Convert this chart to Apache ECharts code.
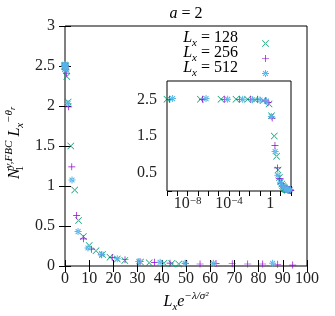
<!DOCTYPE html>
<html><head><meta charset="utf-8">
<script src="https://cdn.jsdelivr.net/npm/echarts@6/dist/echarts.min.js"></script>
<style>html,body{margin:0;padding:0;background:#fff}#c{width:335px;height:316px}</style>
</head><body><div id="c"></div><script>
// ---- data ----
const seriesNames = ['128', '256', '512'];
const x128 = [1.0e-10, 1.7e-7, 1.7e-5, 4.8e-4, 6.3e-3, 3.2e-2, 0.2, 0.75, 1.3, 2.4, 4.0, 5.6, 7.6, 10.0, 12.8, 15.5, 18.6, 21.6, 24.7, 31.2, 34.8, 40.9, 44.1, 47.0];
const y128 = [2.50, 2.50, 2.50, 2.50, 2.50, 2.49, 2.47, 2.37, 2.05, 1.50, 0.95, 0.57, 0.37, 0.255, 0.19, 0.145, 0.11, 0.088, 0.07, 0.05, 0.042, 0.033, 0.03, 0.025];
const x256 = [1.7e-10, 2.8e-7, 3.5e-5, 1.0e-3, 1.15e-2, 5.6e-2, 0.32, 0.6, 1.5, 2.8, 4.8, 7.6, 10.9, 15.0, 19.5, 24.8, 31.0, 37.0, 43.4, 49.8, 55.8, 62.4, 69.1, 75.5, 81.7, 87.9, 94.1];
const y256 = [2.50, 2.50, 2.50, 2.50, 2.50, 2.50, 2.46, 2.41, 1.99, 1.24, 0.63, 0.34, 0.21, 0.14, 0.105, 0.078, 0.054, 0.046, 0.035, 0.03, 0.025, 0.03, 0.028, 0.025, 0.025, 0.022, 0.012];
const x512 = [3.5e-10, 6.0e-7, 7.4e-5, 2.1e-3, 1.95e-2, 0.1, 0.42, 1.25, 2.9, 5.4, 9.5, 15.2, 21.6, 30.5, 39.3, 49.6, 61.3, 85.8];
const y512 = [2.52, 2.52, 2.50, 2.50, 2.49, 2.48, 2.45, 2.03, 1.075, 0.43, 0.225, 0.145, 0.09, 0.055, 0.046, 0.033, 0.033, 0.033];
const mainXTicks = [0, 100, 10];
const mainYTicks = [0, 3, 0.5];
const insetXRange = [1e-10, 100];
const insetYTicks = [0, 3, 0.5];

const colors = ['#009e73', '#9400d3', '#56b4e9'];
const symCross = 'path://M-1,-0.86 L-0.86,-1 L1,0.86 L0.86,1 Z M1,-0.86 L0.86,-1 L-1,0.86 L-0.86,1 Z';
const symPlus = 'path://M-1,-0.1 L1,-0.1 L1,0.1 L-1,0.1 Z M-0.1,-1 L0.1,-1 L0.1,1 L-0.1,1 Z';
const symStar = 'path://M-1,-0.14 L1,-0.14 L1,0.14 L-1,0.14 Z M-0.14,-1 L0.14,-1 L0.14,1 L-0.14,1 Z M-0.8,-0.6 L-0.6,-0.8 L0.8,0.6 L0.6,0.8 Z M0.8,-0.6 L0.6,-0.8 L-0.8,0.6 L-0.6,0.8 Z';
const symbols = [symCross, symPlus, symStar];
const xs = [x128, x256, x512], ys = [y128, y256, y512];

const FONT = '"Liberation Serif", "DejaVu Serif", serif';
const C = '#111';
const rich = {
  i: {fontFamily: FONT, fontSize: 16, fontStyle: 'italic', lineHeight: 22, verticalAlign: 'middle', color: C},
  t: {fontFamily: FONT, fontSize: 16, lineHeight: 22, verticalAlign: 'middle', color: C},
  sub: {fontFamily: FONT, fontSize: 11, fontStyle: 'italic', lineHeight: 11, verticalAlign: 'bottom', color: C},
  sub0: {fontFamily: FONT, fontSize: 11, lineHeight: 11, verticalAlign: 'bottom', color: C, width: 0},
  sup: {fontFamily: FONT, fontSize: 11, fontStyle: 'italic', lineHeight: 11, verticalAlign: 'top', color: C},
  supsub: {fontFamily: FONT, fontSize: 8, fontStyle: 'italic', lineHeight: 8, verticalAlign: 'top', padding: [5,0,0,0], color: C},
  sp: {fontFamily: FONT, fontSize: 16, lineHeight: 22, verticalAlign: 'middle', width: 4}
};

const tickStyle = {lineStyle: {color: '#000', width: 1}};
function valAxis(gi, pos, rng, showLabel, extra) {
  return Object.assign({
    type: 'value', gridIndex: gi, position: pos, min: rng[0], max: rng[1], interval: rng[2],
    axisLine: {show: false}, splitLine: {show: false},
    axisTick: Object.assign({show: true, inside: true, length: 6}, tickStyle),
    axisLabel: {show: showLabel, fontFamily: FONT, fontSize: 16, color: '#222'}
  }, extra || {});
}
const insetXLabel = v => {
  const l = Math.log10(v); const e = Math.round(l);
  if (Math.abs(l - e) > 1e-6 || e % 4 !== 0) return '';
  return e === 0 ? '1' : '10{s|' + '\u2212' + Math.abs(e) + '}';
};
function logAxis(pos, showLabel) {
  return {
    type: 'log', logBase: 10, gridIndex: 1, position: pos, min: insetXRange[0], max: insetXRange[1], interval: 1,
    axisLine: {show: false}, splitLine: {show: false}, minorTick: {show: false},
    axisTick: Object.assign({show: true, inside: true, length: 5}, tickStyle),
    axisLabel: {show: showLabel, margin: 5, fontFamily: FONT, fontSize: 16, color: '#222', formatter: insetXLabel,
      rich: {s: {fontFamily: FONT, fontSize: 11, verticalAlign: 'top', lineHeight: 11, color: '#222'}}}
  };
}
const insetYFmt = v => (Math.round(v * 2) % 2 === 1) ? String(v) : '';

const series = [];
for (let k = 0; k < 3; k++) {
  const main = xs[k].map((x, i) => [x, ys[k][i]]);
  series.push({type: 'scatter', name: seriesNames[k], xAxisIndex: 0, yAxisIndex: 0, data: main,
    symbol: symbols[k], symbolSize: 7, itemStyle: {color: colors[k], opacity: 1}, z: 2 + k});
  series.push({type: 'scatter', name: seriesNames[k], xAxisIndex: 2, yAxisIndex: 2, data: main,
    symbol: symbols[k], symbolSize: 7, itemStyle: {color: colors[k], opacity: 1}, z: 12 + k});
}

const legendText = seriesNames.map((n, k) => ({
  type: 'text', x: 238, y: 38 + 15 * k,
  style: {text: '{i|L}{sub|x}{t| = ' + n + '}', rich: rich, align: 'right', verticalAlign: 'middle'}
}));

const chart = echarts.init(document.getElementById('c'), null, {renderer: 'canvas'});
chart.setOption({
  animation: false,
  backgroundColor: '#fff',
  grid: [
    {left: 65, top: 26, width: 242, height: 240, show: true, borderColor: '#000', borderWidth: 1, backgroundColor: 'transparent'},
    {left: 167, top: 81, width: 124, height: 110, show: true, borderColor: '#000', borderWidth: 1, backgroundColor: '#fff', z: 10}
  ],
  xAxis: [
    valAxis(0, 'bottom', mainXTicks, true, {axisLabel: {margin: 5, fontFamily: FONT, fontSize: 16, color: '#222'}}),
    valAxis(0, 'top', mainXTicks, false),
    logAxis('bottom', true),
    logAxis('top', false)
  ],
  yAxis: [
    valAxis(0, 'left', mainYTicks, true, {axisLabel: {margin: 10, fontFamily: FONT, fontSize: 16, color: '#222'}}),
    valAxis(0, 'right', mainYTicks, false),
    valAxis(1, 'left', insetYTicks, true, {axisTick: Object.assign({show: true, inside: true, length: 5}, tickStyle),
      axisLabel: {margin: 10, fontFamily: FONT, fontSize: 16, color: '#222', formatter: insetYFmt}}),
    valAxis(1, 'right', insetYTicks, false, {axisTick: Object.assign({show: true, inside: true, length: 5}, tickStyle)})
  ],
  legend: {
    data: seriesNames, orient: 'vertical', right: 61, top: 35,
    itemWidth: 12, itemHeight: 7, itemGap: 8, selectedMode: false,
    formatter: () => '', textStyle: {fontSize: 1}
  },
  graphic: [
    {type: 'text', x: 186, y: 14, style: {text: '{i|a}{t| = 2}', rich: rich, align: 'center', verticalAlign: 'middle'}},
    {type: 'text', x: 186, y: 302, style: {text: '{i|L}{sub|x}{i|e}{sup|\u2212\u03bb/\u03c3\u00b2}', rich: rich, align: 'center', verticalAlign: 'middle'}},
    {type: 'text', x: 15, y: 143, rotation: Math.PI / 2,
      style: {text: '{i|N}{sub0|1}{sup|y,FBC}{sp| }{i|L}{sub|x}{sup|\u2212\u03b8}{supsub|r}', rich: rich, align: 'center', verticalAlign: 'middle'}}
  ].concat(legendText),
  series: series
});
</script></body></html>
